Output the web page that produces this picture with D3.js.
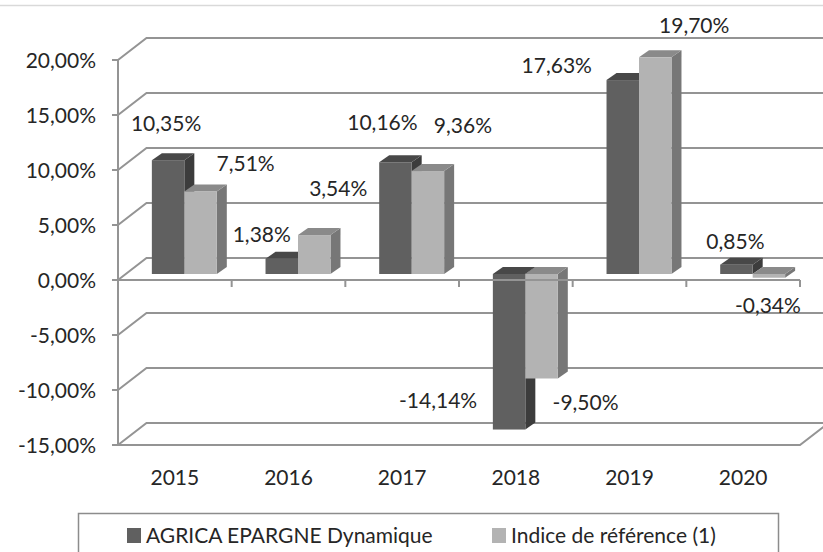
<!DOCTYPE html>
<html>
<head>
<meta charset="utf-8">
<script src="https://cdn.jsdelivr.net/npm/d3@7"></script>
<style>
  body { margin: 0; background: #fff; }
  svg { display: block; font-family: Lato, "Open Sans", sans-serif; }
</style>
</head>
<body>
<svg id="chart" width="823" height="552"></svg>
<script>
// données
const years = ["2015", "2016", "2017", "2018", "2019", "2020"];
const agrica = [10.35, 1.38, 10.16, -14.14, 17.63, 0.85];
const indice = [7.51, 3.54, 9.36, -9.50, 19.70, -0.34];
const seriesNames = ["AGRICA EPARGNE Dynamique", "Indice de référence (1)"];
const yTicks = [-15, -10, -5, 0, 5, 10, 15, 20];

// mise en page des étiquettes (décalage par rapport au haut de la barre)
const labelNudge = [
  [[-2, -37], [-20, -24], [-13, -40], [-71, -29], [-66, -15], [-1, -23]],
  [[45, -28], [24, -47], [35, -46], [44, 24], [39, -32], [-1, 28]]
];

const colors = [
  {front: "#606060", top: "#484848", side: "#3c3c3c"},
  {front: "#b3b3b3", top: "#8a8a8a", side: "#777777"}
];
const grid = "#949494";
const wall = {dx: 28.5, dy: -22};   // profondeur du mur du fond
const barOff = {dx: 9.5, dy: -6};   // face avant des barres
const barDepth = {dx: 10, dy: -7};  // épaisseur des barres

const fr = d3.formatLocale({decimal: ",", thousands: " ", grouping: [3], currency: ["", "€"], minus: "-"});
const pct = v => fr.format(".2f")(v) + "%";

const svg = d3.select("#chart");

// bordure du haut
svg.append("line").attr("x1", 0).attr("x2", 823).attr("y1", 5.5).attr("y2", 5.5)
  .attr("stroke", "#d9d9d9").attr("stroke-width", 1.5);

const y = d3.scaleLinear().domain([-15, 20]).range([445, 60]);
const x0 = d3.scaleBand().domain(years).range([118, 800]);
const x1 = d3.scaleBand().domain([0, 1]).range([0, x0.bandwidth()]).paddingOuter(0.75);

const g = svg.append("g");

// mur gauche + mur du fond
yTicks.forEach(t => {
  g.append("path")
    .attr("d", `M${118},${y(t)}L${118 + wall.dx},${y(t) + wall.dy}L${840},${y(t) + wall.dy}`)
    .attr("fill", "none").attr("stroke", grid).attr("stroke-width", 2);
  g.append("line").attr("x1", 112).attr("x2", 118).attr("y1", y(t)).attr("y2", y(t))
    .attr("stroke", grid).attr("stroke-width", 2);
});

// sol (bord avant)
g.append("path")
  .attr("d", `M118,${y(-15)}L800,${y(-15)}L${800 + wall.dx},${y(-15) + wall.dy}`)
  .attr("fill", "none").attr("stroke", grid).attr("stroke-width", 2);

// axe vertical
g.append("line").attr("x1", 118).attr("x2", 118).attr("y1", y(20)).attr("y2", y(-15))
  .attr("stroke", grid).attr("stroke-width", 2);

// étiquettes de l'axe Y
g.selectAll("text.ytick").data(yTicks).join("text")
  .attr("class", "ytick")
  .attr("x", 96).attr("y", d => y(d) + 7.5)
  .attr("text-anchor", "end").attr("font-size", 21).attr("fill", "#262626")
  .text(d => pct(d));

// barres
const series = [agrica, indice];
years.forEach((yr, i) => {
  series.forEach((vals, s) => {
    const v = vals[i];
    const w = x1.bandwidth();
    const xl = x0(yr) + x1(s) + barOff.dx;
    const yt = y(Math.max(v, 0)) + barOff.dy;
    const yb = y(Math.min(v, 0)) + barOff.dy;
    const c = colors[s];
    const bar = g.append("g");
    bar.append("polygon")
      .attr("points", [[xl + w, yt], [xl + w + barDepth.dx, yt + barDepth.dy],
        [xl + w + barDepth.dx, yb + barDepth.dy], [xl + w, yb]].join(" "))
      .attr("fill", c.side);
    bar.append("polygon")
      .attr("points", [[xl, yt], [xl + w, yt], [xl + w + barDepth.dx, yt + barDepth.dy],
        [xl + barDepth.dx, yt + barDepth.dy]].join(" "))
      .attr("fill", c.top);
    bar.append("rect").attr("x", xl).attr("y", yt).attr("width", w).attr("height", yb - yt)
      .attr("fill", c.front);
  });
});

// axe des catégories (à 0)
g.append("line").attr("x1", 118).attr("x2", 800).attr("y1", y(0)).attr("y2", y(0))
  .attr("stroke", grid).attr("stroke-width", 2);
x0.domain().concat([null]).forEach(d => {
  const xx = d === null ? 800 : x0(d);
  g.append("line").attr("x1", xx).attr("x2", xx).attr("y1", y(0)).attr("y2", y(0) + 7)
    .attr("stroke", grid).attr("stroke-width", 2);
});

// étiquettes de valeurs
series.forEach((vals, s) => {
  vals.forEach((v, i) => {
    const cx = x0(years[i]) + x1(s) + barOff.dx + x1.bandwidth() / 2;
    const cy = y(v) + barOff.dy;
    g.append("text")
      .attr("x", cx + labelNudge[s][i][0])
      .attr("y", cy + labelNudge[s][i][1] + 7.5)
      .attr("text-anchor", "middle").attr("font-size", 21).attr("fill", "#262626")
      .text(pct(v));
  });
});

// étiquettes des années
g.selectAll("text.xlab").data(years).join("text")
  .attr("class", "xlab")
  .attr("x", d => x0(d) + x0.bandwidth() / 2).attr("y", 485)
  .attr("text-anchor", "middle").attr("font-size", 21).attr("fill", "#262626")
  .text(d => d);

// légende
const leg = svg.append("g");
leg.append("rect").attr("x", 78.5).attr("y", 513.5).attr("width", 700).attr("height", 60)
  .attr("fill", "none").attr("stroke", "#8c8c8c").attr("stroke-width", 1.5);
const legX = [127, 492];
seriesNames.forEach((name, s) => {
  leg.append("rect").attr("x", legX[s]).attr("y", 528).attr("width", 14).attr("height", 15)
    .attr("fill", colors[s].front);
  leg.append("text").attr("x", legX[s] + 19).attr("y", 543)
    .attr("font-size", 21).attr("fill", "#262626").text(name);
});
</script>
</body>
</html>
